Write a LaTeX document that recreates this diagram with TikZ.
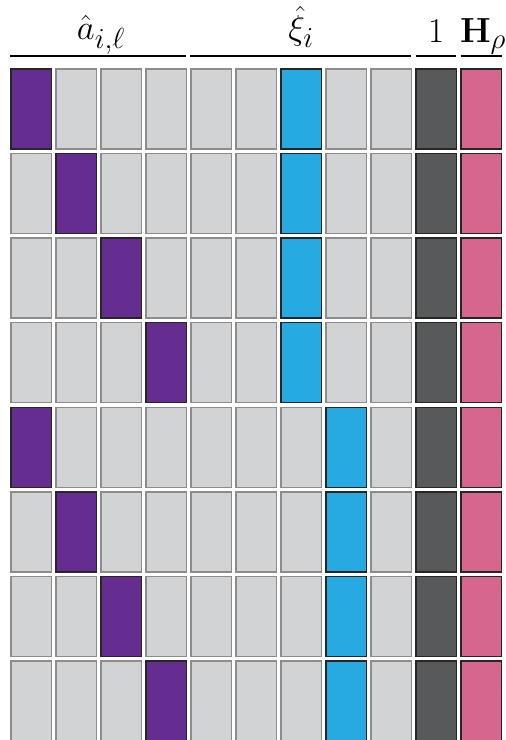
\documentclass[tikz,border=0pt]{standalone}
\usepackage{amsmath}
\usepackage{bm}
\definecolor{purple}{RGB}{102,45,145}
\definecolor{cyan}{RGB}{39,170,225}
\definecolor{dark}{RGB}{88,89,91}
\definecolor{pink}{RGB}{214,102,142}
\definecolor{cellgray}{RGB}{209,211,212}
\tikzset{
  cell/.style={fill=cellgray, draw=black!45, line width=1.4pt},
  hot/.style={fill=#1, draw=black!85, line width=1.4pt},
  head/.style={line width=1.5pt},
  lab/.style={anchor=base, font=\Huge, scale=1.4, transform shape}
}

\begin{document}
\begin{tikzpicture}[x=1pt, y=1pt]
    \useasboundingbox (0,0) rectangle (506,740);

    % grid of cells
    \foreach \r in {0,...,7} {
        \pgfmathsetmacro\yt{671-84.6*\r}
        \pgfmathtruncatemacro\pc{mod(\r,4)}
        \pgfmathtruncatemacro\cc{\r<4 ? 6 : 7}
        \foreach \c in {0,...,10} {
            \pgfmathsetmacro\x{11+45*\c}
            \ifnum\c=\pc
                \draw[hot=purple] (\x, \yt) rectangle (\x+40.5, \yt-80);
            \else\ifnum\c=\cc
                \draw[hot=cyan] (\x, \yt) rectangle (\x+40.5, \yt-80);
            \else\ifnum\c=9
                \draw[hot=dark] (\x, \yt) rectangle (\x+40.5, \yt-80);
            \else\ifnum\c=10
                \draw[hot=pink] (\x, \yt) rectangle (\x+40.5, \yt-80);
            \else
                \draw[cell] (\x, \yt) rectangle (\x+40.5, \yt-80);
            \fi\fi\fi\fi
        }
    }

    % group headers
    \draw[head] (10, 684) -- (186, 684);
    \draw[head] (190, 684) -- (411, 684);
    \draw[head] (415.5, 684) -- (456, 684);
    \draw[head] (460.5, 684) -- (502, 684);

    \node[lab] (ahat) at (101, 700) {$\hat{a}_{i,\ell}$};
    \node[lab] (xihat) at (301, 700) {$\hat{\xi}_i$};
    \node[lab] (one) at (436, 697) {$1$};
    \node[lab] (hrho) at (483, 697) {$\mathbf{H}_\rho$};
\end{tikzpicture}
\end{document}
